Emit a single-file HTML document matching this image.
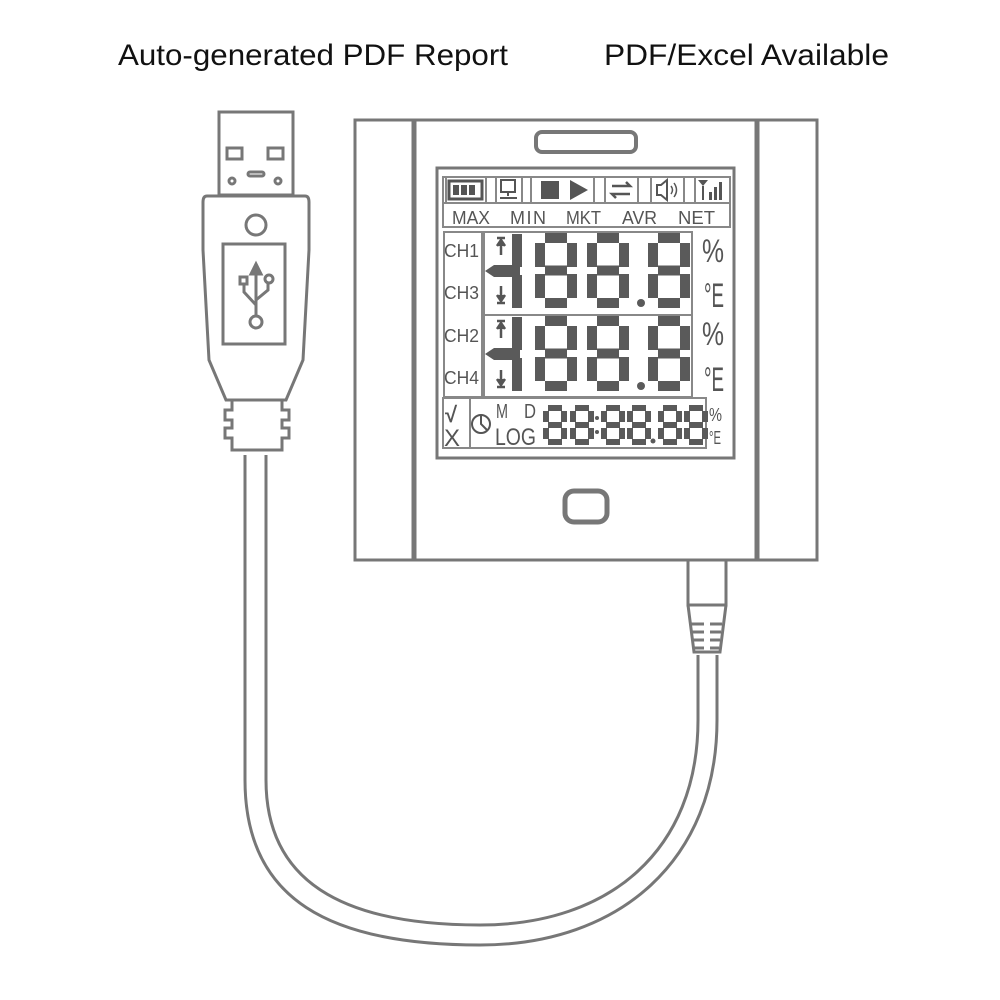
<!DOCTYPE html>
<html><head><meta charset="utf-8"><style>
html,body{margin:0;padding:0;background:#fff;width:1000px;height:1000px;overflow:hidden}
svg{display:block}
</style></head><body>
<svg width="1000" height="1000" viewBox="0 0 1000 1000" xmlns="http://www.w3.org/2000/svg">
<defs>
<g id="d8" fill="none" stroke="#5a5a5a" stroke-width="10">
<path d="M10,5 H32 M10,37.5 H32 M10,70 H32 M5,10 V34 M5,41 V65 M37,10 V34 M37,41 V65"/>
</g>
<g id="s8" fill="none" stroke="#5a5a5a" stroke-width="6">
<path d="M5,3 H19 M5,20 H19 M5,37 H19 M3,6 V17 M3,23 V34 M21,6 V17 M21,23 V34"/>
</g>
</defs>
<text x="118" y="65" font-family="Liberation Sans, sans-serif" font-size="30" fill="#111" textLength="390" lengthAdjust="spacingAndGlyphs">Auto-generated PDF Report</text>
<text x="604" y="65" font-family="Liberation Sans, sans-serif" font-size="30" fill="#111" textLength="285" lengthAdjust="spacingAndGlyphs">PDF/Excel Available</text>

<g fill="none" stroke="#777" stroke-width="3">
<path d="M245,455 L245,780 C245,900 330,945 480,945 C620,945 717,860 717,720 L717,655"/>
<path d="M266,455 L266,780 C266,880 340,925 480,925 C610,925 698,850 698,720 L698,655"/>
<rect x="219" y="112" width="74" height="83"/>
<rect x="227" y="148" width="15" height="11"/>
<rect x="268" y="148" width="15" height="11"/>
<rect x="248" y="172" width="16" height="4" rx="2"/>
<circle cx="232" cy="181" r="3"/>
<circle cx="278" cy="181" r="3"/>
<path d="M207,196 H305 Q309,196 309,202 V250 L303,360 L286,400 H226 L209,360 L203,250 V202 Q203,196 207,196 Z"/>
<circle cx="256" cy="225" r="10"/>
<rect x="223" y="244" width="62" height="100"/>
<path d="M232,400 V410 H225 V420 H232 V428 H225 V438 H232 V450 H282 V438 H289 V428 H282 V420 H289 V410 H282 V400"/>
<g stroke="#777" stroke-width="3">
<path d="M256,272 V315 M256,305 L244,292 V284 M256,300 L268,290 V282"/>
<circle cx="256" cy="322" r="6"/>
<circle cx="269" cy="279" r="4"/>
<rect x="240" y="277" width="7" height="7"/>
</g>
<path d="M251,274 L256,264 L261,274 Z" fill="#777"/>
<rect x="355" y="120" width="462" height="440"/>
<line x1="414" y1="120" x2="414" y2="560" stroke-width="5"/>
<line x1="757" y1="120" x2="757" y2="560" stroke-width="5"/>
<rect x="536" y="132" width="100" height="20" rx="6" stroke-width="4"/>
<rect x="565" y="491" width="42" height="31" rx="9" stroke-width="5"/>
<path d="M688,560 V605 H726 V560"/>
<path d="M688,605 L694,652 H720 L726,605"/>
</g>
<g stroke="#777" stroke-width="3">
<path d="M691,624 H704 M710,624 H722 M692,632 H704 M710,632 H721 M692,640 H704 M710,640 H720 M693,648 H704 M710,648 H719"/>
</g>

<g fill="none" stroke="#888" stroke-width="2">
<rect x="437" y="168" width="297" height="290" stroke="#777" stroke-width="3"/>
<rect x="443" y="177" width="287" height="50"/>
<line x1="443" y1="203" x2="730" y2="203"/>
<rect x="444" y="232" width="38" height="165"/>
<rect x="484" y="232" width="208" height="83"/>
<rect x="484" y="315" width="208" height="82"/>
<rect x="443" y="398" width="27" height="50"/>
<rect x="470" y="398" width="236" height="50"/>
<rect x="446" y="177" width="40" height="26"/>
<rect x="496" y="177" width="26" height="26"/>
<rect x="531" y="177" width="63" height="26"/>
<rect x="605" y="177" width="33" height="26"/>
<rect x="651" y="177" width="33" height="26"/>
<rect x="695" y="177" width="35" height="26"/>
</g>
<g fill="#555" stroke="#555">
<rect x="449" y="181" width="33" height="18" fill="none" stroke-width="3"/>
<rect x="453" y="185" width="6" height="10" stroke="none"/><rect x="461" y="185" width="6" height="10" stroke="none"/><rect x="469" y="185" width="6" height="10" stroke="none"/>
<rect x="501" y="180" width="14" height="12" fill="none" stroke-width="2"/>
<path d="M508,192 V196 M500,198 H517" fill="none" stroke-width="2"/>
<rect x="541" y="181" width="18" height="18" stroke="none"/>
<path d="M570,180 L588,190 L570,200 Z" stroke="none"/>
<path d="M612,186 H630 L626,182 M630,194 H612 L616,198" fill="none" stroke-width="2.5"/>
<path d="M657,185 H661 L667,180 V200 L661,195 H657 Z" fill="none" stroke-width="2"/>
<path d="M671,186 Q674,190 671,194 M674,183 Q679,190 674,197" fill="none" stroke-width="1.5"/>
<path d="M698,180 H708 L703,186 Z M702,186 H704 V200 H702 Z" stroke="none"/>
<rect x="709" y="192" width="3" height="8" stroke="none"/><rect x="714" y="187" width="3" height="13" stroke="none"/><rect x="719" y="182" width="3" height="18" stroke="none"/>
</g>
<g font-family="Liberation Sans, sans-serif" fill="#555">
<text x="452" y="224" font-size="18" textLength="38" lengthAdjust="spacingAndGlyphs">MAX</text>
<text x="510" y="224" font-size="18" textLength="36" lengthAdjust="spacing">MIN</text>
<text x="566" y="224" font-size="18" textLength="35" lengthAdjust="spacingAndGlyphs">MKT</text>
<text x="622" y="224" font-size="18" textLength="35" lengthAdjust="spacingAndGlyphs">AVR</text>
<text x="678" y="224" font-size="18" textLength="37" lengthAdjust="spacingAndGlyphs">NET</text>
<text x="444" y="257" font-size="18" textLength="35" lengthAdjust="spacingAndGlyphs">CH1</text>
<text x="444" y="299" font-size="18" textLength="35" lengthAdjust="spacingAndGlyphs">CH3</text>
<text x="444" y="342" font-size="18" textLength="35" lengthAdjust="spacingAndGlyphs">CH2</text>
<text x="444" y="384" font-size="18" textLength="35" lengthAdjust="spacingAndGlyphs">CH4</text>
<text x="702" y="262" font-size="32" textLength="22" lengthAdjust="spacingAndGlyphs">%</text>
<text x="702" y="345" font-size="32" textLength="22" lengthAdjust="spacingAndGlyphs">%</text>
<text x="704" y="307" font-size="34" textLength="20" lengthAdjust="spacingAndGlyphs">°E</text>
<text x="704" y="391" font-size="34" textLength="20" lengthAdjust="spacingAndGlyphs">°E</text>
<text x="709" y="421" font-size="18" textLength="13" lengthAdjust="spacingAndGlyphs">%</text>
<text x="709" y="444" font-size="18" textLength="12" lengthAdjust="spacingAndGlyphs">°E</text>
<text x="496" y="418" font-size="20" textLength="12" lengthAdjust="spacingAndGlyphs">M</text>
<text x="524" y="418" font-size="20" textLength="12" lengthAdjust="spacingAndGlyphs">D</text>
<text x="495" y="445" font-size="24" textLength="41" lengthAdjust="spacingAndGlyphs">LOG</text>
<text x="445" y="422" font-size="22" font-weight="bold">√</text>
<text x="444" y="446" font-size="24">X</text>
</g>
<circle cx="481" cy="424" r="9" fill="none" stroke="#555" stroke-width="2"/>
<path d="M481,416 V424 L487,430" fill="none" stroke="#555" stroke-width="2"/>
<g fill="#555" stroke="#555" stroke-width="2.5">
<path d="M497,238 H505 M501,240 V255 M497,246 L501,240 L505,246"/>
<path d="M497,303 H505 M501,286 V301 M497,295 L501,301 L505,295"/>
<path d="M497,321 H505 M501,323 V338 M497,329 L501,323 L505,329"/>
<path d="M497,387 H505 M501,370 V385 M497,379 L501,385 L505,379"/>
</g>
<g fill="#5a5a5a">
<path d="M512,234 H522 V267 H512 Z M512,275 H522 V308 H512 Z M485,271 L494,265 H520 V277 H494 Z"/>
<path d="M512,317 H522 V350 H512 Z M512,358 H522 V391 H512 Z M485,354 L494,348 H520 V360 H494 Z"/>
<circle cx="641" cy="303" r="4"/>
<circle cx="641" cy="386" r="4"/>
<circle cx="597" cy="418" r="2"/><circle cx="597" cy="432" r="2"/>
<circle cx="653" cy="441" r="2.5"/>
</g>
<use href="#d8" transform="translate(535,233)"/>
<use href="#d8" transform="translate(587,233)"/>
<use href="#d8" transform="translate(648,233)"/>
<use href="#d8" transform="translate(535,316)"/>
<use href="#d8" transform="translate(587,316)"/>
<use href="#d8" transform="translate(648,316)"/>
<use href="#s8" transform="translate(543,405)"/>
<use href="#s8" transform="translate(570,405)"/>
<use href="#s8" transform="translate(601,405)"/>
<use href="#s8" transform="translate(627,405)"/>
<use href="#s8" transform="translate(658,405)"/>
<use href="#s8" transform="translate(684,405)"/>
</svg>
</body></html>
